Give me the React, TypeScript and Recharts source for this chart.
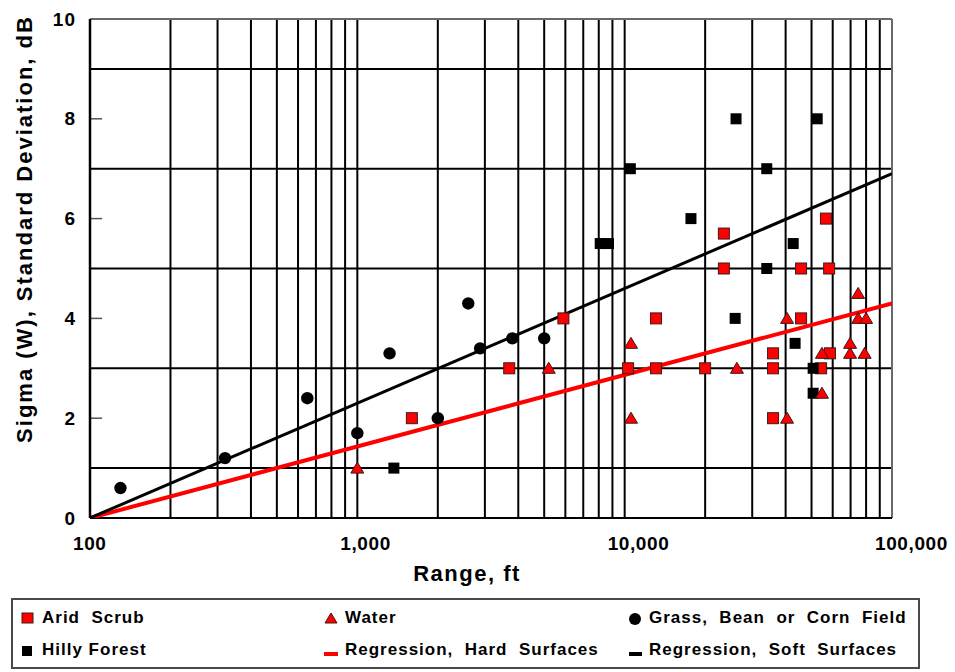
import React from "react";
import {
  ScatterChart,
  Scatter,
  XAxis,
  YAxis,
  ReferenceLine,
  Legend,
} from "recharts";

// ---- data ----
const xTicks = [100, 1000, 10000, 100000];
const yTicks = [0, 2, 4, 6, 8, 10];
const gridX = [
  200, 300, 400, 500, 600, 700, 800, 900, 1000,
  2000, 3000, 4000, 5000, 6000, 7000, 8000, 9000, 10000,
  20000, 30000, 40000, 50000, 60000, 70000, 80000, 90000,
];
const gridY = [1, 3, 5, 7, 9];
const innerTickY = [2, 4, 6, 8];

const aridScrub = [
  { x: 1600, y: 2.0 }, { x: 3700, y: 3.0 }, { x: 5900, y: 4.0 },
  { x: 10300, y: 3.0 }, { x: 13100, y: 4.0 }, { x: 13100, y: 3.0 },
  { x: 20000, y: 3.0 }, { x: 23500, y: 5.7 }, { x: 23500, y: 5.0 },
  { x: 35900, y: 3.3 }, { x: 35900, y: 3.0 }, { x: 35900, y: 2.0 },
  { x: 45700, y: 4.0 }, { x: 45700, y: 5.0 }, { x: 54300, y: 3.0 },
  { x: 58600, y: 3.3 }, { x: 58200, y: 5.0 }, { x: 56600, y: 6.0 },
];
const water = [
  { x: 1000, y: 1.0 }, { x: 5200, y: 3.0 }, { x: 10560, y: 3.5 },
  { x: 10560, y: 2.0 }, { x: 26300, y: 3.0 }, { x: 40500, y: 4.0 },
  { x: 40500, y: 2.0 }, { x: 54700, y: 3.3 }, { x: 54700, y: 2.5 },
  { x: 69700, y: 3.5 }, { x: 69700, y: 3.3 }, { x: 74700, y: 4.5 },
  { x: 74700, y: 4.0 }, { x: 80000, y: 4.0 }, { x: 79000, y: 3.3 },
];
const grassField = [
  { x: 130, y: 0.6 }, { x: 320, y: 1.2 }, { x: 650, y: 2.4 },
  { x: 1000, y: 1.7 }, { x: 1320, y: 3.3 }, { x: 2000, y: 2.0 },
  { x: 2600, y: 4.3 }, { x: 2880, y: 3.4 }, { x: 3800, y: 3.6 },
  { x: 5000, y: 3.6 },
];
const hillyForest = [
  { x: 1370, y: 1.0 }, { x: 8100, y: 5.5 }, { x: 8700, y: 5.5 },
  { x: 10500, y: 7.0 }, { x: 17700, y: 6.0 }, { x: 26100, y: 8.0 },
  { x: 25900, y: 4.0 }, { x: 34000, y: 7.0 }, { x: 34000, y: 5.0 },
  { x: 42700, y: 5.5 }, { x: 43400, y: 3.5 }, { x: 50700, y: 3.0 },
  { x: 50700, y: 2.5 }, { x: 52500, y: 8.0 },
];
const regressionHard = [{ x: 100, y: 0 }, { x: 100000, y: 4.3 }];
const regressionSoft = [{ x: 100, y: 0 }, { x: 100000, y: 6.9 }];

const FONT = "'Liberation Sans', Arial, Helvetica, sans-serif";

// ---- shapes ----
const RedSquare = (p: any) => (
  <rect x={p.cx - 5.5} y={p.cy - 5.5} width={11} height={11} fill="#ff0000" stroke="#3a1a1a" strokeWidth={1} />
);
const BlackSquare = (p: any) => (
  <rect x={p.cx - 5.5} y={p.cy - 5.5} width={11} height={11} fill="#000" />
);
const Circle = (p: any) => <circle cx={p.cx} cy={p.cy} r={6.2} fill="#000" />;
const Triangle = (p: any) => (
  <polygon
    points={`${p.cx},${p.cy - 6} ${p.cx + 6.5},${p.cy + 5} ${p.cx - 6.5},${p.cy + 5}`}
    fill="#ff0000"
    stroke="#3a1a1a"
    strokeWidth={1}
  />
);
const NoShape = () => <g />;

const XTick = (p: any) => (
  <text
    x={p.x - 17}
    y={p.y + 32}
    textAnchor="start"
    fontFamily={FONT}
    fontWeight="bold"
    fontSize={19}
    letterSpacing={0.6}
    fill="#000"
  >
    {Number(p.payload.value).toLocaleString("en-US")}
  </text>
);
const YTick = (p: any) => (
  <text
    x={p.x - 14}
    y={p.y + 6.5}
    textAnchor="end"
    fontFamily={FONT}
    fontWeight="bold"
    fontSize={19}
    letterSpacing={1}
    fill="#000"
  >
    {p.payload.value}
  </text>
);

const legendItems = [
  { label: "Arid  Scrub", kind: "redsq", left: 7, top: 8 },
  { label: "Water", kind: "tri", left: 310, top: 8 },
  { label: "Grass,  Bean  or  Corn  Field", kind: "circle", left: 614, top: 8 },
  { label: "Hilly Forest", kind: "blksq", left: 7, top: 40 },
  { label: "Regression,  Hard  Surfaces", kind: "redline", left: 310, top: 40 },
  { label: "Regression,  Soft  Surfaces", kind: "blkline", left: 614, top: 40 },
];

const LegendMarker = ({ kind }: { kind: string }) => {
  return (
    <svg width={16} height={16} style={{ display: "block" }}>
      {kind === "redsq" && <rect x={2} y={3} width={11} height={10} fill="#ff0000" stroke="#3a1a1a" strokeWidth={1} />}
      {kind === "blksq" && <rect x={2} y={4} width={10} height={10} fill="#000" />}
      {kind === "tri" && <polygon points="8,3 14,13 2,13" fill="#ff0000" stroke="#3a1a1a" strokeWidth={1} />}
      {kind === "circle" && <circle cx={8} cy={9} r={6} fill="#000" />}
      {kind === "redline" && <rect x={1} y={10} width={14} height={4} fill="#ff0000" />}
      {kind === "blkline" && <rect x={2} y={10} width={13} height={4} fill="#000" />}
    </svg>
  );
};

const LegendBox = () => (
  <div
    style={{
      position: "relative",
      width: 909,
      height: 71,
      boxSizing: "border-box",
      border: "2px solid #4a4a4a",
      background: "#fff",
      fontFamily: FONT,
      fontWeight: "bold",
      fontSize: 17,
      letterSpacing: 1,
      color: "#000",
    }}
  >
    {legendItems.map((it) => (
      <div
        key={it.label}
        style={{
          position: "absolute",
          left: it.left,
          top: it.top,
          display: "flex",
          alignItems: "center",
          whiteSpace: "pre",
          lineHeight: "20px",
        }}
      >
        <LegendMarker kind={it.kind} />
        <span style={{ marginLeft: 6 }}>{it.label}</span>
      </div>
    ))}
  </div>
);

export default function App() {
  return (
    <div style={{ width: 955, height: 672, background: "#fff" }}>
      <style>{`body{margin:0;background:#fff}`}</style>
      <ScatterChart
        width={955}
        height={672}
        margin={{ top: 19, right: 63, bottom: 3, left: 0 }}
      >
        <XAxis
          dataKey="x"
          type="number"
          scale="log"
          domain={[100, 100000]}
          ticks={xTicks}
          allowDataOverflow
          height={80}
          tickLine={false}
          tickSize={0}
          tickMargin={0}
          axisLine={{ stroke: "#000", strokeWidth: 2 }}
          tick={XTick}
          interval={0}
          label={{
            content: () => (
              <text
                x={467}
                y={581}
                textAnchor="middle"
                fontFamily={FONT}
                fontWeight="bold"
                fontSize={22}
                letterSpacing={1.5}
                fill="#000"
              >
                Range, ft
              </text>
            ),
          }}
        />
        <YAxis
          dataKey="y"
          type="number"
          domain={[0, 10]}
          ticks={yTicks}
          allowDataOverflow
          width={90}
          tickLine={false}
          tickSize={0}
          tickMargin={0}
          axisLine={{ stroke: "#000", strokeWidth: 2.5 }}
          tick={YTick}
          interval={0}
          label={{
            content: () => (
              <text
                x={32}
                y={229}
                transform="rotate(-90 32 229)"
                textAnchor="middle"
                fontFamily={FONT}
                fontWeight="bold"
                fontSize={22}
                letterSpacing={2}
                fill="#000"
              >
                Sigma (W),  Standard Deviation, dB
              </text>
            ),
          }}
        />
        {gridX.map((v) => (
          <ReferenceLine key={"gx" + v} x={v} stroke="#000" strokeWidth={2} ifOverflow="hidden" />
        ))}
        {gridY.map((v) => (
          <ReferenceLine key={"gy" + v} y={v} stroke="#000" strokeWidth={2} ifOverflow="hidden" />
        ))}
        <ReferenceLine x={100000} stroke="#6a6a6a" strokeWidth={2} />
        <ReferenceLine y={10} stroke="#6a6a6a" strokeWidth={2} />
        {innerTickY.map((v) => (
          <ReferenceLine
            key={"it" + v}
            segment={[{ x: 100, y: v }, { x: 111, y: v }]}
            stroke="#555"
            strokeWidth={1.5}
          />
        ))}
        <Legend
          verticalAlign="bottom"
          align="left"
          wrapperStyle={{ left: 11, width: 909, height: 71 }}
          content={() => <LegendBox />}
        />
        <Scatter
          name="Regression, Hard Surfaces"
          data={regressionHard}
          line={{ stroke: "#ff0000", strokeWidth: 4 }}
          shape={NoShape}
          legendType="none"
          isAnimationActive={false}
        />
        <Scatter
          name="Regression, Soft Surfaces"
          data={regressionSoft}
          line={{ stroke: "#000", strokeWidth: 3 }}
          shape={NoShape}
          legendType="none"
          isAnimationActive={false}
        />
        <Scatter name="Arid Scrub" data={aridScrub} shape={RedSquare} isAnimationActive={false} />
        <Scatter name="Hilly Forest" data={hillyForest} shape={BlackSquare} isAnimationActive={false} />
        <Scatter name="Water" data={water} shape={Triangle} isAnimationActive={false} />
        <Scatter name="Grass, Bean or Corn Field" data={grassField} shape={Circle} isAnimationActive={false} />
      </ScatterChart>
    </div>
  );
}
